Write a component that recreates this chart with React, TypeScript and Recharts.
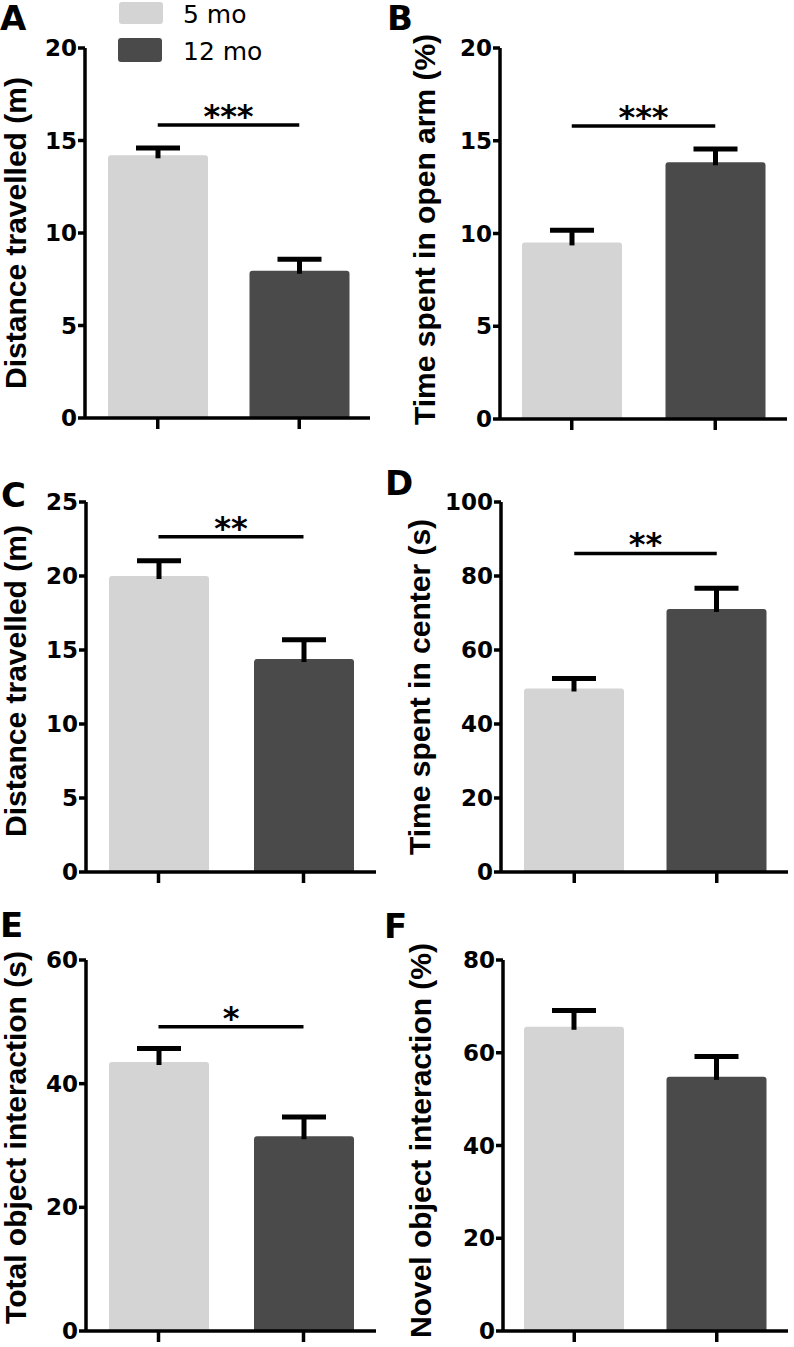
import { BarChart, Bar, XAxis, YAxis, Cell, ReferenceLine } from "recharts"

const GROUPS = ["5 mo", "12 mo"]
const COLORS = ["#d4d4d4", "#4a4a4a"]

// A - distance travelled, m
const distAMean = [14.2, 7.96]
const distASem = [0.4, 0.62]
const distATicks = [0, 5, 10, 15, 20]

// B - time in open arm, %
const openArmMean = [9.52, 13.84]
const openArmSem = [0.66, 0.71]
const openArmTicks = [0, 5, 10, 15, 20]

// C - distance travelled, m
const distCMean = [20.0, 14.39]
const distCSem = [1.03, 1.3]
const distCTicks = [0, 5, 10, 15, 20, 25]

// D - time in center, s
const centerMean = [49.6, 71.1]
const centerSem = [2.7, 5.6]
const centerTicks = [0, 20, 40, 60, 80, 100]

// E - total object interaction, s
const totalObjMean = [43.5, 31.5]
const totalObjSem = [2.2, 3.1]
const totalObjTicks = [0, 20, 40, 60]

// F - novel object interaction, %
const novelObjMean = [65.6, 54.8]
const novelObjSem = [3.5, 4.4]
const novelObjTicks = [0, 20, 40, 60, 80]

const TICK_FONT = "'DejaVu Sans', sans-serif"
const LABEL_FONT = "'Liberation Sans', Arial, sans-serif"

// error bar drawn in the stacked "sem" segment: stem + cap, upward only
function ErrShape(props: any) {
  const { x, y, width, height } = props
  const cx = x + width / 2
  return (
    <g>
      <line x1={cx} x2={cx} y1={y + height + 3} y2={y} stroke="#000" strokeWidth={5} />
      <line x1={cx - 22} x2={cx + 22} y1={y} y2={y} stroke="#000" strokeWidth={5} />
    </g>
  )
}

type PanelProps = {
  letter: string
  letterPos: [number, number]
  label: string
  labelDx: number
  labelDy: number
  mean: number[]
  sem: number[]
  ticks: number[]
  sig?: { y: number; text: string }
  box: { left: number; top: number; w: number; h: number }
  plot: { x0: number; x1: number; yTop: number; yZero: number }
  padL?: number
}

function Panel(p: PanelProps) {
  const rows = GROUPS.map((g, i) => ({ name: g, mean: p.mean[i], sem: p.sem[i] }))
  const { left, top, w, h } = p.box
  const xAxisH = 14
  const margin = {
    top: p.plot.yTop - top,
    right: left + w - p.plot.x1,
    bottom: h - (p.plot.yZero - top) - xAxisH,
    left: 0,
  }
  const yMax = p.ticks[p.ticks.length - 1]
  return (
    <>
      <div style={{ position: "absolute", left, top, width: w, height: h }}>
        <BarChart width={w} height={h} data={rows} margin={margin}>
          <XAxis
            dataKey="name"
            interval={0}
            height={xAxisH}
            padding={{ left: p.padL ?? 0, right: 0 }}
            axisLine={{ stroke: "#000", strokeWidth: 3.5 }}
            tickLine={{ stroke: "#000", strokeWidth: 3.5 }}
            tickSize={11}
            tickFormatter={() => ""}
          />
          <YAxis
            width={p.plot.x0 - left}
            domain={[0, yMax]}
            ticks={p.ticks}
            interval={0}
            axisLine={{ stroke: "#000", strokeWidth: 3.5 }}
            tickLine={{ stroke: "#000", strokeWidth: 3.5 }}
            tickSize={7}
            tickMargin={1}
            tick={{ fill: "#000", fontSize: 23, fontWeight: "bold", fontFamily: TICK_FONT }}
            label={{
              value: p.label,
              angle: -90,
              position: "center",
              dx: p.labelDx,
              dy: p.labelDy,
              style: { fill: "#000", fontSize: 30, fontWeight: "bold", fontFamily: LABEL_FONT },
            }}
          />
          <Bar dataKey="mean" stackId="s" barSize={100} radius={[3, 3, 0, 0]} isAnimationActive={false}>
            {rows.map((_, i) => (
              <Cell key={i} fill={COLORS[i]} />
            ))}
          </Bar>
          <Bar dataKey="sem" stackId="s" barSize={100} shape={ErrShape} isAnimationActive={false} />
          {p.sig && (
            <ReferenceLine
              segment={[
                { x: GROUPS[0], y: p.sig.y },
                { x: GROUPS[1], y: p.sig.y },
              ]}
              stroke="#000"
              strokeWidth={3.5}
              label={{
                value: p.sig.text,
                position: "top",
                offset: -2,
                fill: "#000",
                fontSize: 32,
                fontWeight: "bold",
                fontFamily: TICK_FONT,
              }}
            />
          )}
        </BarChart>
      </div>
      <div
        style={{
          position: "absolute",
          left: p.letterPos[0],
          top: p.letterPos[1],
          fontFamily: TICK_FONT,
          fontWeight: "bold",
          fontSize: 34,
          lineHeight: 1,
        }}
      >
        {p.letter}
      </div>
    </>
  )
}

function LegendBox() {
  const sw = { position: "absolute" as const, width: 44, borderRadius: 3 }
  const txt = {
    position: "absolute" as const,
    left: 183,
    fontFamily: TICK_FONT,
    fontSize: 25,
    lineHeight: 1,
    color: "#000",
  }
  return (
    <>
      <div style={{ ...sw, left: 119, top: 2, height: 22, background: COLORS[0] }} />
      <div style={{ ...sw, left: 118, top: 38, height: 24, background: COLORS[1] }} />
      <div style={{ ...txt, top: 1.5 }}>{GROUPS[0]}</div>
      <div style={{ ...txt, top: 39 }}>{GROUPS[1]}</div>
    </>
  )
}

export default function App() {
  return (
    <div style={{ position: "absolute", left: 0, top: 0, width: 794, height: 1347, background: "#fff" }}>
      <Panel
        letter="A"
        letterPos={[0, 1]}
        label="Distance travelled (m)"
        labelDx={-27.5}
        labelDy={0}
        mean={distAMean}
        sem={distASem}
        ticks={distATicks}
        sig={{ y: 15.84, text: "***" }}
        box={{ left: 0, top: 0, w: 390, h: 460 }}
        plot={{ x0: 85, x1: 370, yTop: 48, yZero: 418 }}
        padL={2}
      />
      <Panel
        letter="B"
        letterPos={[387, 1]}
        label="Time spent in open arm (%)"
        labelDx={-23.5}
        labelDy={-4}
        mean={openArmMean}
        sem={openArmSem}
        ticks={openArmTicks}
        sig={{ y: 15.8, text: "***" }}
        box={{ left: 395, top: 0, w: 399, h: 460 }}
        plot={{ x0: 500, x1: 787, yTop: 48, yZero: 419 }}
      />
      <Panel
        letter="C"
        letterPos={[1, 478]}
        label="Distance travelled (m)"
        labelDx={-28}
        labelDy={-6}
        mean={distCMean}
        sem={distCSem}
        ticks={distCTicks}
        sig={{ y: 22.65, text: "**" }}
        box={{ left: 0, top: 440, w: 390, h: 460 }}
        plot={{ x0: 86, x1: 376, yTop: 502, yZero: 872 }}
      />
      <Panel
        letter="D"
        letterPos={[385, 466]}
        label="Time spent in center (s)"
        labelDx={-29}
        labelDy={0}
        mean={centerMean}
        sem={centerSem}
        ticks={centerTicks}
        sig={{ y: 86.1, text: "**" }}
        box={{ left: 395, top: 440, w: 399, h: 460 }}
        plot={{ x0: 501, x1: 788, yTop: 502, yZero: 872 }}
        padL={2}
      />
      <Panel
        letter="E"
        letterPos={[0, 908]}
        label="Total object interaction (s)"
        labelDx={-28}
        labelDy={-8}
        mean={totalObjMean}
        sem={totalObjSem}
        ticks={totalObjTicks}
        sig={{ y: 49.2, text: "*" }}
        box={{ left: 0, top: 880, w: 390, h: 467 }}
        plot={{ x0: 86, x1: 376, yTop: 960, yZero: 1331 }}
      />
      <Panel
        letter="F"
        letterPos={[384, 909]}
        label="Novel object interaction (%)"
        labelDx={-29}
        labelDy={-5}
        mean={novelObjMean}
        sem={novelObjSem}
        ticks={novelObjTicks}
        box={{ left: 395, top: 880, w: 399, h: 467 }}
        plot={{ x0: 503, x1: 788, yTop: 960, yZero: 1331 }}
      />
      <LegendBox />
    </div>
  )
}
